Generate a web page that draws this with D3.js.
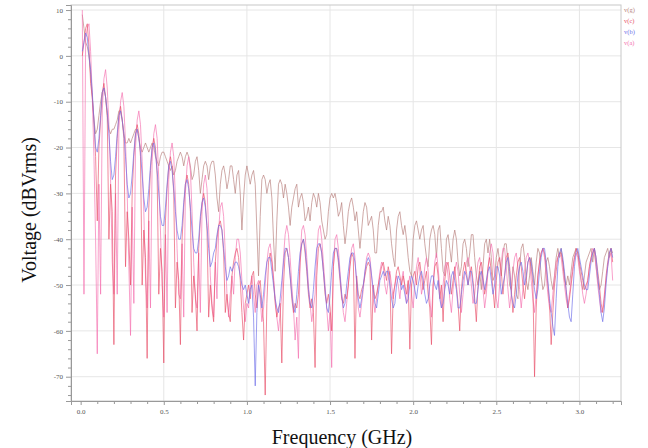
<!DOCTYPE html>
<html><head><meta charset="utf-8">
<script src="https://cdn.jsdelivr.net/npm/d3@7"></script>
<style>body{margin:0;background:#fff;}svg{display:block;}</style>
</head><body>
<svg id="c" width="648" height="448"></svg>
<script>
// Frequency grid (GHz): 0.01 .. 3.20 in 0.01 steps
const fStart = 0.01, fStep = 0.01;
const seriesNames = ["v(g)", "v(c)", "v(b)", "v(a)"];
const xTickLabels = ["0.0","0.5","1.0","1.5","2.0","2.5","3.0"];
const yTickLabels = ["10","0","-10","-20","-30","-40","-50","-60","-70"];

const vg = [
 9,6,3,2,0,-4,-9,-14,-17,-16,
 -13,-10,-8,-7,-9,-13,-16,-17,-16,-16,
 -15,-14,-12,-12,-14,-17,-19,-19,-18,-19,
 -18,-17,-16,-16,-18,-20,-21,-20,-19,-20,
 -21,-20,-19,-20,-22,-23,-24,-22,-21,-21,
 -22,-23,-24,-25,-24,-26,-25,-23,-22,-21,
 -22,-24,-22,-21,-22,-24,-27,-26,-23,-22,
 -25,-30,-27,-24,-23,-24,-27,-24,-23,-23,
 -26,-31,-34,-28,-25,-24,-26,-29,-27,-24,
 -24,-27,-30,-26,-25,-30,-38,-31,-26,-24,
 -26,-28,-26,-25,-28,-38,-48,-35,-27,-26,
 -27,-30,-28,-27,-31,-40,-47,-36,-28,-27,
 -28,-31,-28,-30,-33,-37,-33,-31,-29,-28,
 -33,-31,-30,-32,-36,-35,-33,-36,-32,-30,
 -31,-33,-30,-32,-36,-38,-40,-39,-34,-31,
 -30,-31,-30,-32,-35,-34,-32,-37,-41,-38,
 -34,-32,-31,-33,-36,-34,-38,-42,-38,-34,
 -32,-33,-37,-36,-35,-38,-43,-43,-37,-34,
 -34,-33,-36,-38,-35,-37,-41,-44,-46,-38,
 -35,-34,-37,-39,-37,-40,-44,-47,-48,-40,
 -37,-36,-38,-40,-38,-37,-41,-44,-46,-40,
 -38,-37,-39,-44,-38,-37,-42,-47,-48,-40,
 -39,-42,-45,-40,-38,-40,-45,-48,-46,-41,
 -40,-42,-46,-43,-39,-39,-44,-48,-50,-47,
 -51,-46,-41,-40,-43,-40,-44,-49,-48,-44,
 -42,-45,-48,-43,-41,-41,-45,-50,-51,-46,
 -48,-52,-53,-46,-42,-41,-44,-49,-51,-48,
 -44,-47,-50,-45,-42,-43,-48,-51,-50,-45,
 -44,-46,-49,-51,-48,-44,-42,-44,-42,-45,
 -49,-50,-48,-50,-47,-44,-43,-42,-43,-46,
 -49,-51,-48,-45,-44,-43,-42,-45,-42,-46,
 -49,-51,-50,-47,-44,-43,-42,-44,-42,-43
];
const vc = [
 0,3,6,7,2,-6,-9,-14,-22,-36,
 -20,-14,-8,-6,-9,-13,-40,-28,-34,-63,
 -26,-18,-13,-11,-14,-18,-46,-34,-40,-50,
 -30,-22,-17,-15,-17,-22,-50,-38,-44,-66,
 -33,-25,-20,-18,-20,-26,-52,-42,-47,-67,
 -36,-29,-24,-22,-24,-30,-55,-45,-49,-63,
 -40,-33,-28,-26,-28,-34,-56,-48,-52,-60,
 -42,-36,-32,-30,-32,-38,-57,-50,-55,-58,
 -45,-40,-37,-36,-38,-43,-56,-52,-56,-58,
 -48,-45,-43,-42,-44,-49,-56,-62,-54,-52,
 -50,-53,-48,-47,-52,-55,-50,-49,-54,-58,
 -74,-54,-45,-43,-45,-49,-54,-57,-55,-54,
 -67,-50,-43,-42,-44,-48,-53,-56,-54,-55,
 -52,-45,-41,-40,-43,-47,-52,-55,-53,-56,
 -68,-48,-42,-41,-43,-47,-52,-54,-52,-55,
 -60,-46,-42,-42,-45,-49,-53,-54,-52,-53,
 -50,-46,-43,-44,-66,-48,-52,-53,-51,-50,
 -48,-46,-45,-46,-62,-50,-53,-52,-50,-48,
 -46,-45,-47,-49,-46,-48,-65,-52,-50,-47,
 -46,-48,-50,-48,-50,-52,-49,-64,-50,-48,
 -47,-50,-46,-45,-48,-51,-49,-47,-52,-55,
 -63,-50,-46,-45,-48,-53,-50,-58,-49,-46,
 -45,-48,-52,-49,-46,-50,-54,-60,-51,-47,
 -45,-47,-50,-48,-46,-49,-53,-58,-50,-46,
 -45,-48,-52,-50,-46,-44,-47,-51,-55,-49,
 -45,-44,-47,-52,-48,-44,-43,-46,-51,-56,
 -52,-48,-45,-44,-46,-50,-53,-49,-45,-44,
 -46,-50,-70,-55,-48,-45,-43,-42,-43,-46,
 -50,-54,-63,-56,-50,-47,-44,-43,-43,-45,
 -48,-51,-55,-53,-50,-47,-44,-42,-43,-45,
 -47,-49,-51,-50,-49,-46,-44,-43,-42,-44,
 -47,-50,-54,-56,-53,-48,-45,-43,-42,-45
];
const vb = [
 1,3,5,4,0,-3,-8,-14,-20,-21,
 -18,-13,-8,-7,-9,-12,-17,-23,-27,-26,
 -22,-17,-13,-12,-14,-17,-22,-28,-31,-30,
 -26,-21,-17,-16,-18,-21,-26,-31,-34,-33,
 -29,-24,-20,-19,-21,-25,-30,-35,-37,-37,
 -33,-28,-24,-23,-25,-29,-34,-38,-40,-40,
 -37,-32,-28,-27,-29,-33,-38,-42,-43,-43,
 -40,-35,-32,-31,-33,-37,-42,-46,-45,-43,
 -42,-39,-37,-37,-38,-42,-46,-49,-48,-46,
 -47,-46,-45,-45,-46,-48,-50,-51,-50,-52,
 -54,-51,-50,-57,-72,-56,-50,-52,-55,-52,
 -48,-45,-44,-44,-47,-50,-53,-55,-56,-53,
 -49,-45,-42,-42,-44,-48,-52,-55,-56,-52,
 -47,-43,-41,-40,-42,-46,-51,-54,-55,-51,
 -46,-42,-41,-41,-43,-47,-51,-55,-56,-52,
 -47,-43,-42,-42,-44,-48,-52,-55,-54,-50,
 -47,-44,-43,-43,-45,-49,-53,-55,-53,-50,
 -47,-45,-44,-45,-48,-51,-54,-55,-52,-49,
 -48,-47,-48,-47,-47,-50,-53,-55,-54,-50,
 -48,-49,-51,-50,-52,-54,-53,-50,-48,-49,
 -51,-53,-50,-48,-47,-49,-52,-54,-53,-50,
 -48,-48,-50,-51,-49,-53,-55,-54,-51,-49,
 -50,-52,-48,-47,-49,-51,-55,-55,-52,-49,
 -47,-48,-50,-47,-47,-50,-54,-54,-51,-48,
 -47,-49,-51,-49,-47,-46,-49,-52,-50,-46,
 -46,-48,-52,-50,-48,-45,-44,-47,-52,-54,
 -55,-52,-48,-46,-45,-47,-50,-48,-45,-44,
 -45,-48,-51,-53,-51,-47,-44,-42,-42,-45,
 -49,-53,-56,-59,-61,-53,-46,-43,-42,-44,
 -47,-51,-54,-57,-58,-52,-46,-43,-42,-44,
 -46,-48,-50,-51,-51,-48,-45,-43,-42,-44,
 -48,-52,-56,-58,-55,-50,-46,-43,-42,-44
];
const va = [
 10,-52,4,6,7,1,-9,-22,-40,-65,
 -28,-52,-12,-5,-3,-7,-15,-27,-45,-52,
 -30,-52,-16,-10,-8,-11,-19,-30,-46,-61,
 -33,-54,-20,-14,-12,-15,-23,-34,-48,-55,
 -36,-55,-23,-17,-15,-18,-27,-38,-50,-57,
 -39,-56,-27,-21,-19,-22,-31,-42,-52,-53,
 -41,-57,-30,-24,-22,-25,-34,-45,-53,-55,
 -43,-56,-34,-28,-26,-29,-38,-48,-54,-57,
 -45,-53,-38,-33,-32,-35,-43,-52,-57,-52,
 -48,-52,-44,-40,-40,-43,-49,-55,-58,-54,
 -55,-50,-48,-52,-56,-50,-49,-53,-58,-55,
 -50,-45,-42,-41,-44,-48,-53,-57,-60,-56,
 -52,-44,-39,-37,-39,-44,-50,-55,-62,-57,
 -66,-44,-38,-37,-39,-44,-50,-54,-58,-55,
 -52,-43,-38,-37,-40,-45,-50,-55,-60,-56,
 -68,-46,-40,-39,-42,-47,-52,-56,-58,-54,
 -50,-45,-42,-41,-44,-50,-55,-57,-54,-51,
 -47,-44,-43,-44,-48,-53,-56,-53,-50,-47,
 -45,-46,-50,-52,-49,-47,-50,-53,-50,-48,
 -50,-53,-49,-47,-51,-54,-50,-48,-52,-55,
 -50,-46,-44,-47,-52,-50,-46,-44,-47,-53,
 -57,-50,-45,-43,-46,-51,-55,-50,-46,-45,
 -48,-53,-56,-51,-47,-45,-47,-52,-56,-52,
 -48,-45,-44,-46,-50,-54,-52,-48,-45,-44,
 -47,-51,-55,-52,-47,-43,-41,-43,-48,-53,
 -55,-50,-45,-42,-42,-46,-51,-55,-52,-47,
 -44,-43,-46,-51,-55,-51,-47,-44,-43,-45,
 -49,-53,-56,-52,-48,-45,-43,-42,-44,-48,
 -52,-55,-56,-52,-48,-45,-44,-43,-44,-47,
 -50,-53,-55,-52,-49,-46,-44,-43,-44,-47,
 -49,-52,-54,-52,-49,-46,-44,-42,-43,-46,
 -50,-53,-56,-55,-52,-49,-46,-44,-43,-49
];
const colors = {"v(g)":"#b77f7c","v(c)":"#e8506a","v(b)":"#6e6ee8","v(a)":"#f472b0"};

const svg = d3.select("#c");
const L = 71, R = 621, T = 5, B = 401;
const x = d3.scaleLinear().domain([-0.058, 3.25]).range([L, R]);
const y = d3.scaleLinear().domain([-75.3, 11.1]).range([B, T]);

const xMajor = xTickLabels.map(Number);
const yMajor = yTickLabels.map(Number);

// grid
const grid = svg.append("g");
grid.selectAll("line.gx").data(xMajor.filter(d => d > 0)).join("line")
  .attr("x1", d => x(d)).attr("x2", d => x(d)).attr("y1", T).attr("y2", B)
  .attr("stroke", "#e6e6e6").attr("stroke-width", 1);
grid.selectAll("line.gy").data(yMajor).join("line")
  .attr("y1", d => y(d)).attr("y2", d => y(d)).attr("x1", L).attr("x2", R)
  .attr("stroke", "#e6e6e6").attr("stroke-width", 1);

// frame
svg.append("rect").attr("x", L).attr("y", T).attr("width", R - L).attr("height", B - T)
  .attr("fill", "none").attr("stroke", "#c8c8c8").attr("stroke-width", 1);

// series
const data = {"v(g)": vg, "v(c)": vc, "v(b)": vb, "v(a)": va};
const line = d3.line().x((d, i) => x(fStart + i * fStep)).y(d => y(d));
const order = ["v(g)", "v(a)", "v(c)", "v(b)"];
order.forEach(name => {
  svg.append("path").datum(data[name]).attr("d", line)
    .attr("fill", "none").attr("stroke", colors[name])
    .attr("stroke-width", 0.9).attr("stroke-opacity", 0.75)
    .attr("stroke-linejoin", "round");
});

// axes
const fontF = "'Liberation Serif', 'Times New Roman', serif";
const xAxis = d3.axisBottom(x).tickValues(xMajor).tickFormat((d, i) => xTickLabels[i]).tickSize(4).tickPadding(4);
const gx = svg.append("g").attr("transform", `translate(0,${B})`).call(xAxis);
gx.select(".domain").attr("stroke", "#999");
gx.selectAll(".tick line").attr("stroke", "#999");
gx.selectAll("text").attr("font-family", fontF).attr("font-size", 7).attr("fill", "#555");
const xMinor = d3.range(0, 33).map(i => i / 10).filter(v => Math.abs(v * 2 - Math.round(v * 2)) > 1e-6);
svg.append("g").attr("transform", `translate(0,${B})`)
  .call(d3.axisBottom(x).tickValues(xMinor).tickFormat("").tickSize(3))
  .call(g => g.select(".domain").remove())
  .selectAll(".tick line").attr("stroke", "#999");

const yAxis = d3.axisLeft(y).tickValues(yMajor).tickFormat((d, i) => yTickLabels[i]).tickSize(5).tickPadding(3);
const gy = svg.append("g").attr("transform", `translate(${L},0)`).call(yAxis);
gy.select(".domain").attr("stroke", "#999");
gy.selectAll(".tick line").attr("stroke", "#999");
gy.selectAll("text").attr("font-family", fontF).attr("font-size", 7).attr("fill", "#555");
const yMinor = d3.range(-74, 11, 2).filter(v => v % 10 !== 0);
svg.append("g").attr("transform", `translate(${L},0)`)
  .call(d3.axisLeft(y).tickValues(yMinor).tickFormat("").tickSize(3))
  .call(g => g.select(".domain").remove())
  .selectAll(".tick line").attr("stroke", "#999");

// legend
seriesNames.forEach((n, i) => {
  svg.append("text").attr("x", 624).attr("y", 12 + i * 11)
    .attr("font-family", fontF).attr("font-size", 6.5)
    .attr("fill", colors[n]).text(n);
});

// titles
svg.append("text").attr("x", 342).attr("y", 444).attr("text-anchor", "middle")
  .attr("font-family", fontF).attr("font-size", 20).attr("fill", "#111")
  .text("Frequency (GHz)");
svg.append("text").attr("transform", "translate(36,210) rotate(-90)").attr("text-anchor", "middle")
  .attr("font-family", fontF).attr("font-size", 20).attr("fill", "#111")
  .text("Voltage (dBVrms)");
</script>
</body></html>
